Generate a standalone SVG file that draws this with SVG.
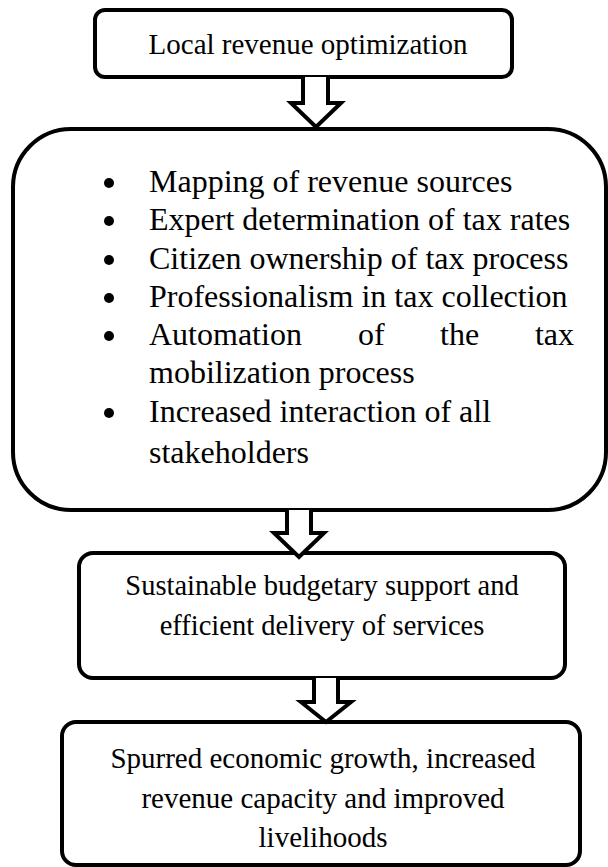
<svg xmlns="http://www.w3.org/2000/svg" width="608" height="867" viewBox="0 0 608 867">
  <style>
    .box { fill: #fff; stroke: #000; stroke-width: 4; }
    .arrow { fill: #fff; stroke: #000; stroke-width: 4; stroke-linejoin: miter; }
    text { font-family: "Liberation Serif", "Times New Roman", serif; font-size: 29px; fill: #000; }
    .item { font-size: 32px; }
    .c { text-anchor: middle; }
  </style>
  <rect width="608" height="867" fill="#fff"/>

  <g id="node-optimization">
    <rect class="box" x="95" y="10" width="417" height="67" rx="10"/>
    <text class="c" x="308" y="54">Local revenue optimization</text>
  </g>

  <g id="node-measures">
    <rect class="box" x="13" y="129" width="593" height="381" rx="58"/>
    <g id="bullets">
      <circle cx="109" cy="183" r="5"/>
      <circle cx="109" cy="221" r="5"/>
      <circle cx="109" cy="260" r="5"/>
      <circle cx="109" cy="298" r="5"/>
      <circle cx="109" cy="336" r="5"/>
      <circle cx="109" cy="413" r="5"/>
    </g>
    <text class="item" x="149" y="192">Mapping of revenue sources</text>
    <text class="item" x="149" y="230">Expert determination of tax rates</text>
    <text class="item" x="149" y="269">Citizen ownership of tax process</text>
    <text class="item" x="149" y="307">Professionalism in tax collection</text>
    <text class="item" x="149" y="345">Automation</text>
    <text class="item" x="358" y="345">of</text>
    <text class="item" x="440" y="345">the</text>
    <text class="item" x="574" y="345" text-anchor="end">tax</text>
    <text class="item" x="149" y="383">mobilization process</text>
    <text class="item" x="149" y="422">Increased interaction of all</text>
    <text class="item" x="149" y="463">stakeholders</text>
  </g>

  <g id="node-budget">
    <rect class="box" x="79" y="553" width="486" height="125" rx="14"/>
    <text class="c" x="322" y="595" style="font-size:28.5px">Sustainable budgetary support and</text>
    <text class="c" x="322" y="635" style="font-size:28.5px">efficient delivery of services</text>
  </g>

  <g id="node-growth">
    <rect class="box" x="62" y="722" width="518" height="143" rx="14"/>
    <text class="c" x="323" y="768">Spurred economic growth, increased</text>
    <text class="c" x="323" y="808">revenue capacity and improved</text>
    <text class="c" x="323" y="847">livelihoods</text>
  </g>

  <g id="connectors">
    <path class="arrow" d="M303 77 V103 H291 L316 127 L341 103 H328 V77"/>
    <path class="arrow" d="M287 510 V533 H274 L299 557 L324 533 H311 V510"/>
    <path class="arrow" d="M314 678 V702 H301 L326 722 L351 702 H338 V678"/>
  </g>
</svg>
